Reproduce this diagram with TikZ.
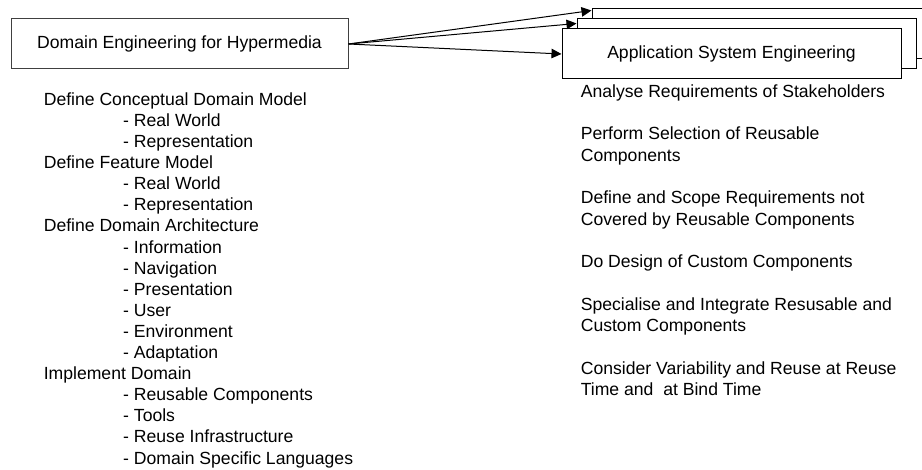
\documentclass[tikz,border=0pt]{standalone}
\usepackage{fontspec}
\setmainfont{Liberation Sans}
\usetikzlibrary{arrows.meta,calc}
\begin{document}
\begin{tikzpicture}[x=1pt,y=-1pt,
  lbl/.style={font=\fontsize{17.6}{21.2}\selectfont, inner sep=0pt, anchor=base west},
  panel/.style={draw=black, line width=1pt, fill=white, minimum width=339pt,
    minimum height=50pt, inner sep=0pt, font=\fontsize{17.6}{21.2}\selectfont},
  flow/.style={line width=1pt, -{Triangle[length=10pt,width=9.5pt]}}
]
% page frame
\path[fill=white, use as bounding box] (0,0) rectangle (922,470);
\clip (0,0) rectangle (922,470);

% domain engineering box
\node[panel, draw=black!75, minimum width=337pt] (dom) at (179.5,44)
  {Domain Engineering for Hypermedia};

% stacked application engineering boxes (back to front)
\node[panel] (back)  at (761.5,34) {};
\node[panel] (mid)   at (746.5,44) {};
\node[panel] (front) at (731.5,54) {Application System Engineering};

% arrow targets on the stacked boxes
\coordinate (backin) at ($(back.north west)+(0,2)$);
\coordinate (midin)  at ($(mid.north west)+(0,5)$);

\draw[flow] (dom.east) -- (backin);
\draw[flow] (dom.east) -- (midin);
\draw[flow] (dom.east) -- (front.west);

% domain engineering activities
\foreach \d/\t [count=\i] in {
  0/Define Conceptual Domain Model,
  1/- Real World,
  1/- Representation,
  0/Define Feature Model,
  1/- Real World,
  1/- Representation,
  0/Define Domain Architecture,
  1/- Information,
  1/- Navigation,
  1/- Presentation,
  1/- User,
  1/- Environment,
  1/- Adaptation,
  0/Implement Domain,
  1/- Reusable Components,
  1/- Tools,
  1/- Reuse Infrastructure,
  1/- Domain Specific Languages}
  \node[lbl] (L\i) at ({43.6+79.4*\d},{105.4+21.1*(\i-1)}) {\t};

% application engineering activities
\foreach \r/\t [count=\i] in {
  0/Analyse Requirements of Stakeholders,
  2/Perform Selection of Reusable,
  3/Components,
  5/Define and Scope Requirements not,
  6/Covered by Reusable Components,
  8/Do Design of Custom Components,
  10/Specialise and Integrate Resusable and,
  11/Custom Components,
  13/Consider Variability and Reuse at Reuse,
  14/Time and \ at Bind Time}
  \node[lbl] (R\i) at ({580.6},{97.4+21.3*\r}) {\t};
\end{tikzpicture}
\end{document}
